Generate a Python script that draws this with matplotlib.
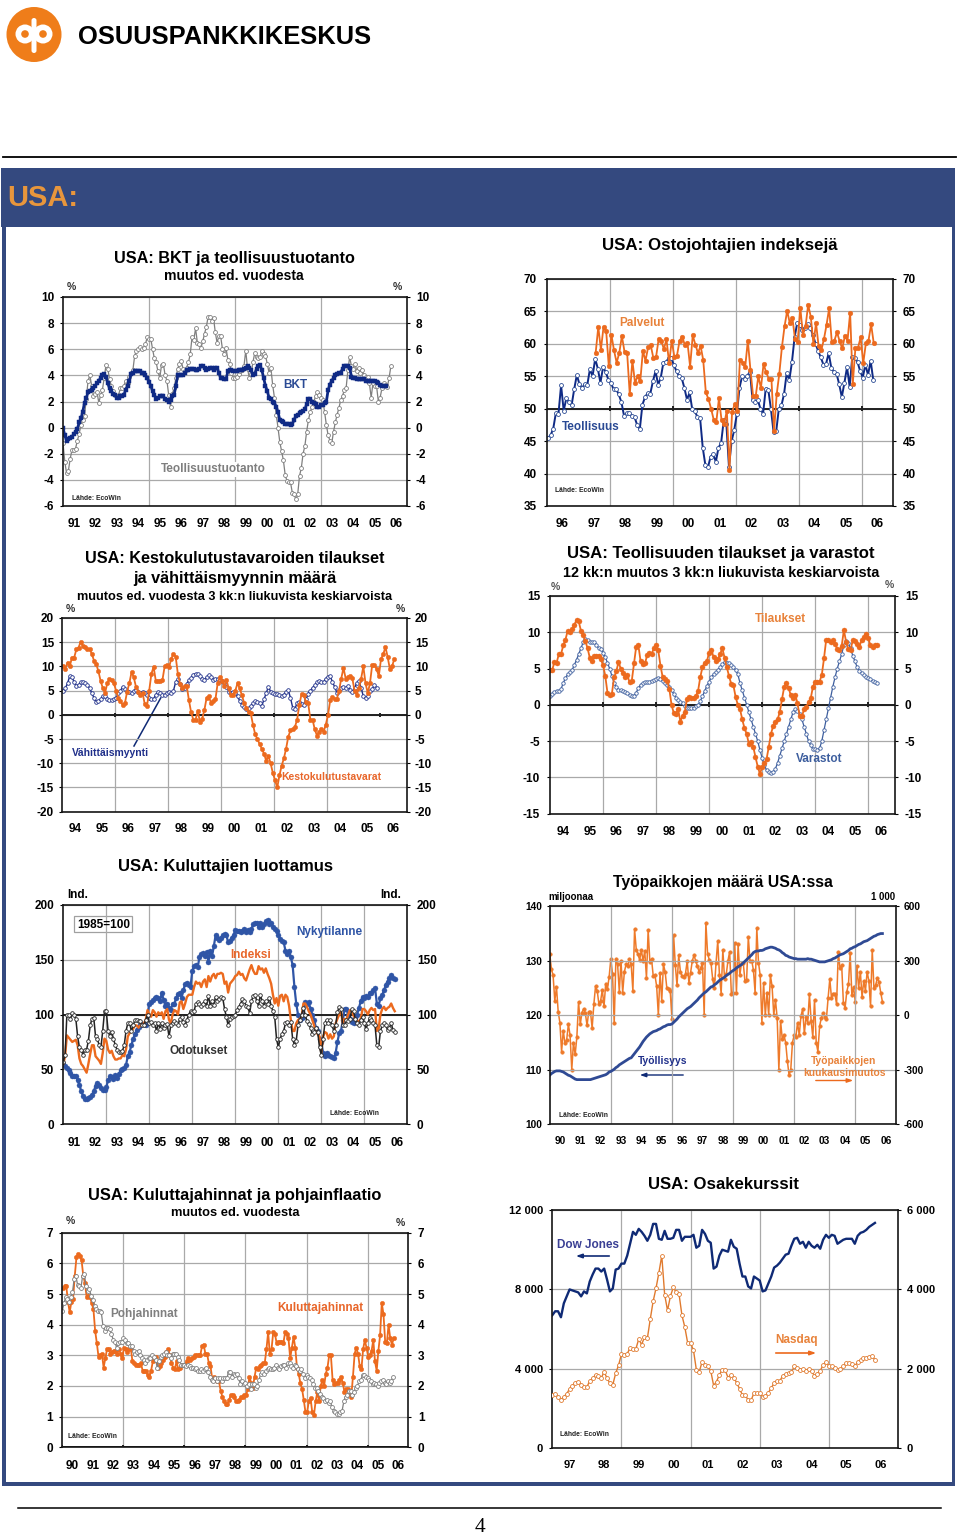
import numpy as np
import matplotlib
matplotlib.use('Agg')
import matplotlib.pyplot as plt
from matplotlib.patches import Circle, Rectangle, FancyBboxPatch

plt.rcParams['font.family'] = ['Liberation Sans', 'DejaVu Sans']

# --- chart 1: BKT ja teollisuustuotanto
bkt = [0.0,-0.6,-1.0,-0.9,-0.8,-0.7,-0.5,-0.3,-0.1,0.4,0.7,1.2,
       1.9,2.3,2.7,2.8,2.9,3.0,3.2,3.4,3.6,3.8,4.0,4.1,
       3.9,3.4,3.0,2.8,2.6,2.5,2.3,2.3,2.4,2.4,2.5,2.9,
       3.2,3.6,4.1,4.2,4.3,4.3,4.3,4.3,4.2,4.2,4.0,3.8,
       3.5,3.2,2.8,2.5,2.2,2.3,2.4,2.4,2.4,2.2,2.1,2.0,
       2.1,2.4,2.5,3.2,4.0,4.0,4.0,4.0,4.2,4.4,4.4,4.5,
       4.5,4.5,4.4,4.4,4.5,4.7,4.7,4.6,4.4,4.5,4.6,4.6,
       4.4,4.6,4.6,4.2,3.8,3.8,3.7,3.7,4.3,4.4,4.4,4.3,
       4.3,4.3,4.4,4.4,4.4,4.5,4.6,4.7,4.6,4.4,4.0,4.1,
       4.5,4.7,4.8,4.4,3.8,3.2,2.8,2.3,2.2,2.0,1.9,1.6,
       1.2,0.6,0.5,0.4,0.3,0.3,0.3,0.2,0.3,0.6,0.9,1.0,
       1.1,1.2,1.3,1.4,1.8,2.2,2.2,2.0,1.9,1.8,1.6,1.6,
       1.7,1.7,1.9,2.0,2.9,3.3,3.6,3.8,4.0,4.1,4.2,4.2,
       4.5,4.7,4.7,4.7,4.6,3.9,3.8,3.8,3.7,3.7,3.7,3.7,
       3.7,3.6,3.6,3.6,3.6,3.6,3.6,3.5,3.4,3.3,3.2,3.2,3.15]
teollisuustuotanto = [-1.2,-2.6,-3.5,-3.3,-2.4,-1.7,-1.7,-1.6,-1.0,-0.5,0.2,0.6,
       0.9,2.2,3.6,4.0,3.2,2.4,2.6,2.7,1.9,2.5,2.9,3.8,
       4.8,4.5,3.7,3.2,2.8,2.5,2.4,2.5,3.0,3.0,3.2,3.6,
       3.4,3.9,4.2,4.4,5.5,5.9,6.0,6.2,6.0,6.1,6.4,6.9,
       6.8,6.8,6.0,5.3,5.0,4.3,3.8,4.8,4.9,4.0,3.6,2.5,
       1.6,2.6,3.0,3.8,4.5,4.9,5.1,4.5,4.3,4.6,5.0,5.6,
       6.9,6.7,7.6,6.5,6.4,6.1,6.6,7.2,7.7,8.5,8.5,8.2,
       8.4,7.3,6.5,7.0,7.0,6.0,5.6,6.1,5.2,4.9,4.2,3.8,
       3.8,3.9,4.1,4.3,4.4,4.7,5.9,4.5,3.8,4.1,5.0,5.7,
       5.4,5.3,5.4,5.9,5.6,5.5,4.9,4.2,4.6,3.3,2.3,1.0,
       0.0,-1.1,-1.8,-2.5,-3.6,-4.1,-4.2,-4.2,-5.0,-5.1,-5.5,-5.1,
       -3.7,-3.1,-2.0,-1.4,-0.3,0.6,1.2,1.6,2.0,2.4,2.7,2.5,
       2.3,2.1,1.2,0.2,-0.6,-1.0,-1.2,-0.3,0.4,1.0,1.5,2.1,
       2.4,2.9,3.0,4.4,5.4,4.7,4.5,4.9,4.3,4.6,4.2,4.4,
       4.0,3.9,3.9,3.4,2.3,3.4,3.2,3.2,2.0,2.3,3.0,3.4,
       3.3,3.1,3.8,4.7]

# --- chart 2: ostojohtajien indeksejä
teollisuus = [45.5,45.9,46.9,49.3,49.2,53.6,49.7,51.6,51.0,50.5,53.0,55.2,
       53.8,53.2,53.8,53.7,56.1,55.0,57.7,56.2,54.0,56.4,55.7,54.5,
       54.0,53.0,53.0,52.2,51.0,48.9,49.3,49.3,48.9,48.7,47.5,46.8,
       50.6,51.8,52.4,52.3,54.2,55.8,53.7,54.8,57.1,57.2,57.8,57.8,
       56.7,55.8,55.0,54.7,53.2,51.4,52.5,49.9,49.6,48.7,48.5,44.0,
       41.3,41.0,42.6,43.0,41.8,44.0,44.7,48.2,47.7,41.0,45.0,46.7,
       49.2,53.2,55.0,54.6,55.1,55.7,51.3,51.0,51.3,50.0,49.2,53.1,
       52.9,49.9,46.4,46.5,50.0,50.5,52.3,55.5,54.4,57.2,61.0,63.2,
       62.9,62.2,62.5,63.0,62.4,61.4,60.0,58.9,57.9,56.8,56.9,58.6,
       56.3,55.7,55.4,53.8,51.8,54.0,56.4,53.4,58.0,57.8,57.2,55.8,
       54.8,56.8,55.2,57.4,54.4]
palvelut = [58.6,62.6,59.1,62.6,62.0,56.6,61.4,59.0,57.1,58.6,61.2,58.8,
       58.6,52.2,57.4,54.0,55.0,54.2,58.9,57.4,59.5,59.8,57.8,57.9,
       60.7,60.5,59.2,60.7,57.0,60.5,58.0,58.2,60.5,61.1,59.8,60.2,
       56.5,61.3,59.9,58.6,59.7,57.5,52.5,51.5,50.0,48.3,48.0,51.6,
       48.2,47.7,49.7,40.5,49.5,50.7,49.7,57.5,57.1,56.4,60.5,56.0,
       52.0,51.9,55.0,53.2,56.9,55.6,54.6,54.6,46.5,52.2,55.4,59.5,
       62.7,65.1,63.2,64.0,60.7,60.3,65.6,61.4,62.7,66.0,64.2,60.0,
       63.2,59.6,59.0,60.7,62.9,65.5,60.3,60.5,61.8,60.4,59.3,61.2,
       60.5,64.8,53.8,59.3,59.4,61.0,57.0,60.1,60.5,63.0,60.1]

# --- chart 3: kestokulutustavarat ja vähittäismyynti
kestokulutus = [10.0,9.5,10.8,10.0,11.8,11.8,13.5,13.9,15.1,14.2,14.1,13.5,
       13.6,12.6,11.2,10.5,9.0,7.0,5.5,4.5,6.5,7.4,7.2,6.5,
       5.0,3.5,2.8,2.0,2.4,4.8,6.5,8.8,7.8,5.8,4.8,4.2,
       4.5,2.2,1.8,5.0,8.5,9.9,7.0,7.0,6.9,7.2,10.0,10.2,
       9.8,11.6,12.6,12.0,8.4,6.4,5.6,5.9,6.0,3.0,0.5,-1.0,
       -1.0,0.8,-1.5,-0.8,1.0,3.5,3.8,2.5,2.8,3.2,6.5,7.8,
       7.0,6.0,7.2,5.5,4.0,4.0,5.0,6.5,5.5,4.0,2.5,1.5,
       0.5,0.3,-2.0,-4.0,-5.0,-6.0,-7.0,-8.0,-9.5,-8.5,-10.0,-12.0,
       -13.5,-15.0,-12.5,-10.5,-9.0,-7.0,-4.5,-3.2,-3.0,-2.5,-1.0,2.0,
       4.3,4.0,2.7,2.5,-1.0,-1.0,-3.0,-4.3,-3.5,-3.0,-3.5,-2.0,
       0.0,3.0,3.7,3.3,3.3,5.0,7.5,9.7,7.5,7.8,8.0,7.6,
       5.0,4.2,5.5,7.5,10.0,6.5,4.5,6.5,10.3,10.3,9.5,8.0,
       11.5,12.5,14.0,12.0,9.5,10.0,11.5]
vahittais = [5.0,5.5,6.5,8.0,7.8,6.8,6.0,6.2,6.7,6.7,6.6,6.2,
       5.5,4.5,3.5,2.6,2.9,3.2,3.9,3.9,3.3,3.0,3.0,3.2,
       3.5,4.5,5.0,5.8,5.4,5.0,4.7,4.5,5.0,5.1,4.7,4.6,
       4.7,4.5,4.0,3.5,3.2,3.3,4.2,4.7,4.6,4.2,4.2,4.5,
       4.7,4.6,5.0,6.8,7.3,6.3,5.3,5.5,6.4,7.2,7.6,8.3,
       8.5,8.5,8.0,7.5,7.1,7.8,8.2,7.8,7.2,7.5,7.5,7.2,
       7.0,6.5,5.8,4.8,4.6,4.7,4.6,3.8,2.9,2.0,1.6,1.3,
       1.4,1.8,2.4,2.8,2.7,2.5,1.8,3.2,4.5,5.8,4.8,4.5,
       4.3,4.4,4.0,3.8,4.2,4.8,5.1,3.5,1.5,1.2,2.5,2.6,
       2.3,2.1,3.2,4.4,5.0,5.6,6.1,6.7,6.9,6.7,6.8,7.5,
       7.9,8.0,6.8,5.8,4.6,5.2,5.6,5.7,5.5,5.9,5.2,4.7,
       5.5,6.6,7.0,5.6,3.8,3.5,3.8,5.0,5.3,6.1,5.6]

# --- chart 4: tilaukset ja varastot
tilaukset = [4.8,4.8,5.9,5.8,7.0,7.0,8.2,9.0,10.2,10.0,10.4,11.0,
       11.7,11.5,10.2,9.6,8.8,7.8,6.5,6.0,6.7,6.8,6.8,6.3,
       5.5,4.0,1.7,1.3,1.5,3.8,4.6,5.9,5.0,4.4,3.8,4.1,
       3.1,3.3,5.7,8.0,8.2,6.0,5.6,5.7,6.9,7.1,7.0,7.8,
       8.2,7.5,5.4,3.8,3.5,3.3,2.2,0.0,-1.1,-1.2,-0.6,-2.3,
       -1.5,-1.0,0.8,1.1,0.9,1.0,1.2,1.9,3.8,5.2,5.8,6.0,
       7.2,7.6,6.6,6.1,6.3,7.0,7.8,6.5,5.2,4.0,2.9,2.7,
       1.1,0.0,-0.6,-2.0,-3.2,-4.0,-5.4,-5.1,-5.8,-7.2,-8.5,-9.5,
       -8.6,-8.0,-7.5,-5.8,-4.0,-2.9,-2.3,-2.0,-1.0,0.8,2.5,3.0,
       2.3,1.3,1.0,1.4,0.2,-1.5,-1.6,-0.6,-0.3,0.4,0.9,2.5,
       3.2,3.2,3.2,4.1,6.4,9.0,9.0,8.6,8.9,8.4,7.7,7.6,
       8.1,10.3,8.7,7.7,7.5,8.9,8.8,8.4,8.0,8.9,9.3,9.8,
       9.2,8.2,8.0,8.2,8.3]
varastot = [1.2,1.5,1.8,1.9,1.9,2.2,3.0,3.7,4.2,4.5,4.8,5.5,
       6.2,7.0,7.8,8.6,9.1,8.9,8.7,8.6,8.6,8.3,7.8,7.7,
       7.2,6.6,5.8,5.0,4.0,3.0,2.4,2.1,2.0,1.9,1.8,1.6,
       1.4,1.2,1.2,1.7,2.3,2.8,3.0,3.1,3.2,3.2,3.3,3.4,
       3.5,3.7,3.6,3.3,3.0,2.7,2.4,2.0,1.5,1.0,0.6,0.4,
       0.3,-0.2,-0.4,-0.4,-0.4,-0.4,-0.2,0.0,0.5,1.2,1.9,2.6,
       3.2,3.8,4.2,4.5,4.8,5.2,5.6,5.9,5.8,5.7,5.5,5.2,
       4.8,4.2,3.0,2.0,1.0,0.0,-1.0,-2.0,-3.0,-4.0,-5.0,-6.2,
       -7.3,-8.3,-9.0,-9.3,-9.4,-9.3,-8.8,-8.0,-7.0,-6.0,-5.0,-4.0,
       -3.0,-2.0,-1.0,-0.6,-0.8,-1.2,-2.0,-3.0,-4.0,-5.0,-5.6,-6.1,
       -6.1,-6.2,-6.0,-5.0,-3.5,-2.0,-0.5,1.0,2.5,3.8,5.0,6.0,
       7.0,8.2,8.8,8.5,7.8,6.8,6.0,5.2,4.7,4.4,4.1,3.9,
       3.7,3.5,3.3,3.1,3.0]

# --- chart 5: kuluttajien luottamus
nykytilanne = [55,53,51,49,47,44,44,44,40,36,30,26,
       23,23,24,25,27,30,35,38,36,33,31,31,
       34,40,44,43,41,45,42,46,49,50,51,54,
       62,66,72,78,82,86,89,90,91,91,90,100,
       110,111,113,115,116,115,112,120,113,108,110,106,
       104,110,110,115,119,120,115,122,128,129,127,125,
       140,144,145,143,152,155,156,153,157,148,158,153,
       162,172,170,168,170,172,173,172,166,167,170,172,
       177,176,176,175,176,178,175,177,175,178,182,183,
       183,180,183,180,182,185,186,182,183,180,178,176,
       172,169,167,166,158,155,158,152,145,125,110,100,
       95,97,98,111,110,111,105,100,95,88,85,78,
       75,65,62,65,63,62,61,60,65,75,83,85,
       95,105,105,100,96,93,92,97,100,106,112,116,
       115,117,116,120,120,122,124,110,108,115,118,122,
       127,130,133,136,133,132]
indeksi = [55,62,81,79,77,75,76,77,72,60,55,53,
       50,47,55,64,72,72,62,60,58,55,65,78,
       76,68,65,67,62,59,59,60,60,63,62,68,
       80,83,85,87,90,90,88,90,91,92,95,104,
       100,98,104,102,98,102,100,102,96,103,105,95,
       92,100,104,103,100,111,112,105,110,116,118,118,
       118,125,130,128,129,125,130,132,125,135,130,135,
       137,133,137,137,138,137,128,130,120,128,130,132,
       135,136,139,136,137,133,131,136,141,145,140,137,
       137,144,141,142,138,142,137,133,128,118,110,115,
       108,117,118,112,118,116,108,95,85,85,92,95,
       96,98,110,110,107,103,100,95,90,85,82,80,
       65,80,84,83,78,82,78,80,92,96,100,103,
       92,96,95,100,104,103,99,96,94,94,96,105,
       105,103,100,104,106,104,105,85,87,100,105,107,
       104,106,107,110,106,103]
odotukset = [57,63,100,100,96,101,100,96,80,70,68,63,
       68,68,76,90,96,97,80,78,72,70,85,103,
       103,85,80,84,78,72,68,66,66,67,72,85,
       92,92,85,90,95,95,94,94,90,90,95,100,
       92,93,90,92,85,92,87,92,88,90,91,80,
       90,92,94,92,90,96,98,93,90,95,100,103,
       102,103,110,111,110,108,110,112,108,117,108,112,
       109,116,112,114,116,115,105,98,90,96,98,99,
       100,104,107,110,114,112,108,107,101,112,117,118,
       112,108,118,112,108,112,110,115,108,103,98,78,
       70,78,82,85,92,93,90,93,78,72,76,90,
       95,100,106,100,94,91,88,82,84,88,84,70,
       63,78,92,95,92,95,90,85,90,102,107,105,
       90,90,95,94,96,105,103,96,92,90,95,98,
       92,87,92,97,95,92,90,72,70,85,90,92,
       90,86,88,92,86,84]

# --- chart 6: työpaikkojen määrä
tyollisyys = [109.0,109.3,109.5,109.7,109.8,109.8,109.8,109.7,109.6,109.4,109.2,109.0,
       108.9,108.7,108.5,108.3,108.2,108.2,108.2,108.2,108.2,108.2,108.2,108.2,
       108.2,108.3,108.4,108.5,108.6,108.7,108.8,108.9,109.0,109.1,109.3,109.6,
       109.7,109.9,110.1,110.4,110.6,110.9,111.1,111.3,111.5,111.7,111.9,112.1,
       112.2,112.6,113.0,113.4,113.8,114.2,114.7,115.2,115.6,116.0,116.3,116.6,
       116.8,117.0,117.1,117.2,117.4,117.5,117.7,117.9,118.0,118.2,118.3,118.3,
       118.4,118.7,119.0,119.3,119.7,120.0,120.3,120.6,120.9,121.2,121.4,121.6,
       121.9,122.2,122.5,122.8,123.2,123.5,123.8,124.1,124.3,124.6,124.9,125.2,
       125.3,125.6,125.8,126.1,126.4,126.6,126.8,127.0,127.3,127.5,127.7,128.0,
       128.2,128.4,128.7,128.9,129.1,129.3,129.6,129.9,130.2,130.5,130.8,131.1,
       131.5,131.7,131.8,131.8,131.9,131.9,132.0,132.2,132.3,132.4,132.5,132.5,
       132.4,132.3,132.1,132.0,131.8,131.5,131.3,131.0,130.9,130.7,130.6,130.5,
       130.4,130.4,130.3,130.3,130.3,130.3,130.3,130.3,130.4,130.3,130.3,130.2,
       130.1,130.0,129.9,129.8,129.8,129.8,129.8,129.9,130.0,130.1,130.2,130.4,
       130.5,130.7,130.9,131.1,131.2,131.3,131.5,131.7,131.9,132.2,132.3,132.5,
       132.6,132.8,133.0,133.1,133.3,133.5,133.6,133.7,133.9,134.1,134.3,134.5,
       134.6,134.8,134.9,135.0,135.0]
kuukausimuutos = [340,255,220,80,155,20,-40,-200,-85,-155,-135,-50,
       -110,-300,-150,-215,-120,75,-50,15,35,10,-55,20,
       20,-70,60,160,135,60,80,140,50,175,145,210,
       310,230,-45,310,280,130,300,125,240,280,270,310,
       280,135,475,360,335,305,360,300,355,205,470,295,
       310,215,220,160,0,235,80,280,240,150,145,135,
       -20,440,275,165,330,240,215,210,230,300,180,235,
       300,330,300,270,240,260,290,0,510,340,305,290,
       200,150,290,410,220,120,360,200,225,300,350,120,
       125,400,125,390,220,290,290,190,195,430,300,300,
       250,125,480,290,220,-40,180,0,125,0,220,160,
       0,85,-15,-300,-30,-130,-110,-150,-250,-330,-300,-150,
       -110,-120,-40,-110,-5,35,-100,-10,-40,115,-30,-120,
       85,-150,-200,-60,-15,10,-10,-20,95,200,95,120,
       120,60,350,260,275,70,40,130,170,345,110,155,
       75,270,150,240,100,190,135,240,190,50,360,150,
       165,205,185,125,75]

# --- chart 7: kuluttajahinnat ja pohjainflaatio
kuluttajahinnat = [5.2,5.25,5.25,4.75,4.4,4.75,4.85,5.6,6.2,6.3,6.25,6.1,
       5.6,5.35,4.9,4.95,4.9,4.7,4.5,3.8,3.4,2.95,3.0,3.05,
       2.6,2.9,3.2,3.2,3.05,3.1,3.15,3.15,3.05,3.2,3.05,2.9,
       3.25,3.2,3.1,3.2,3.25,2.8,2.75,2.7,2.7,2.7,2.75,2.5,
       2.5,2.5,2.35,2.3,2.5,2.8,2.9,2.95,2.6,2.65,2.75,2.85,
       2.95,3.1,3.2,3.0,2.75,2.6,2.55,2.8,2.55,2.6,2.7,2.7,
       2.7,2.8,2.9,2.85,2.9,2.95,3.0,3.0,3.0,3.0,3.3,3.35,
       3.05,3.05,2.75,2.65,2.25,2.3,2.2,2.15,2.15,1.85,1.65,1.5,
       1.4,1.4,1.55,1.7,1.7,1.65,1.5,1.5,1.55,1.65,1.65,1.7,
       1.7,1.9,2.3,2.1,1.95,2.3,2.6,2.55,2.65,2.7,2.75,2.75,
       3.2,3.75,3.05,3.2,3.75,3.7,3.4,3.45,3.45,3.45,3.4,3.75,
       3.7,3.55,2.9,3.25,3.6,3.25,2.6,2.4,2.1,1.9,1.55,1.15,
       1.15,1.5,1.6,1.15,1.05,1.5,1.8,1.5,2.0,2.2,2.0,2.4,
       2.6,3.0,3.0,2.2,2.05,2.1,2.1,2.2,2.3,2.1,1.8,1.9,
       1.9,1.75,1.65,2.3,3.05,3.25,3.05,2.65,2.55,3.2,3.5,3.25,
       2.95,3.0,3.15,3.5,2.8,2.5,3.15,3.65,4.7,4.35,3.45,3.4,
       4.0,3.55,3.35,3.55]
pohjahinnat = [4.45,4.7,4.9,4.85,4.75,4.9,5.05,5.5,5.6,5.3,5.25,5.2,
       5.6,5.65,5.25,5.1,5.15,4.95,4.8,4.6,4.5,4.45,4.45,4.4,
       3.95,3.8,3.9,3.9,3.85,3.7,3.5,3.45,3.25,3.4,3.45,3.45,
       3.55,3.5,3.4,3.4,3.3,3.3,3.15,3.05,3.1,3.15,3.0,2.9,
       2.85,2.75,2.85,2.9,2.9,3.0,2.95,2.85,2.6,2.8,2.95,3.0,
       3.05,3.1,3.0,3.0,2.9,3.05,3.05,3.05,2.95,2.85,2.7,2.7,
       2.7,2.65,2.7,2.65,2.6,2.6,2.55,2.6,2.5,2.5,2.55,2.5,
       2.55,2.6,2.45,2.3,2.2,2.15,2.25,2.15,2.25,2.25,2.15,2.25,
       2.25,2.25,2.45,2.45,2.3,2.4,2.35,2.4,2.25,2.05,2.15,2.05,
       2.1,2.0,2.05,1.9,2.05,2.05,1.95,2.0,2.2,2.4,2.45,2.4,
       2.5,2.55,2.6,2.55,2.55,2.6,2.7,2.6,2.55,2.65,2.7,2.7,
       2.6,2.75,2.75,2.65,2.6,2.7,2.65,2.55,2.5,2.55,2.4,2.25,
       2.35,2.3,2.25,2.2,2.05,1.95,1.95,1.85,1.75,1.65,1.6,1.5,
       1.55,1.45,1.5,1.3,1.2,1.15,1.1,1.1,1.15,1.2,1.5,1.65,
       1.7,1.85,1.85,1.7,1.8,1.95,2.0,2.15,2.2,2.35,2.35,2.3,
       2.25,2.2,2.15,2.05,2.1,2.05,2.0,2.1,2.15,2.2,2.1,2.05,
       2.15,2.1,2.15,2.3]

# --- chart 8: osakekurssit
dow = [6700,6900,6900,6600,7300,7650,8000,7950,7900,7850,7650,7900,7800,8400,8750,9050,9050,8900,9050,
       8500,7900,8050,9000,9050,9300,9300,9700,10300,10900,10750,11050,10900,10700,10450,10750,
       11300,11300,10550,10500,10950,10550,10550,10600,11000,11000,10450,10650,10650,10650,10750,
       10100,10200,11000,10800,10450,10350,9050,9150,9700,10000,9950,9900,10500,10150,10050,9300,
       8650,8650,8150,8050,8650,8550,8450,7900,7950,8300,8650,9100,9200,9350,9550,9750,9800,10200,
       10550,10600,10300,10400,10100,10400,10200,10100,10250,10050,10500,10750,10600,10750,10700,
       10300,10400,10500,10550,10550,10550,10300,10700,10850,10900,11000,11150,11250,11350]
nasdaq = [1350,1370,1290,1220,1300,1370,1500,1580,1650,1680,1600,1550,1540,1700,1760,1850,1830,1770,1930,
       1760,1640,1600,1890,2090,2370,2350,2380,2530,2510,2500,2750,2610,2800,2770,3250,3700,4030,
       4420,4850,3870,3470,3830,4050,3930,3880,3350,3050,2650,2650,2470,1980,1920,2180,2100,2060,
       1950,1580,1680,1850,1980,1970,1780,1850,1780,1650,1500,1340,1330,1220,1210,1390,1380,1390,
       1300,1320,1400,1520,1640,1700,1700,1830,1870,1900,1920,2060,2030,1980,2000,1950,2000,1950,
       1820,1880,1950,2100,2170,2080,2060,2030,1960,2000,2070,2140,2150,2130,2060,2180,2220,2280,
       2270,2290,2320,2230]

years_91 = ['91','92','93','94','95','96','97','98','99','00','01','02','03','04','05','06']
years_90 = ['90'] + years_91
years_94 = years_91[3:]
years_96 = years_91[5:]
years_97 = years_91[6:]

FRAME = '#34497F'
ORANGE = '#EC6A1E'
NAVY = '#0F2A85'
BLUE = '#2F55A6'
GREY = '#7F7F7F'
W, H = 960, 1536

fig = plt.figure(figsize=(W / 100, H / 100), dpi=100, facecolor='white')

# page furniture drawn in pixel coordinates
bg = fig.add_axes([0, 0, 1, 1], zorder=0)
bg.set_xlim(0, W)
bg.set_ylim(H, 0)
bg.axis('off')
bg.add_patch(Rectangle((1, 168), 954, 59, color=FRAME, lw=0))
bg.add_patch(Rectangle((2, 226), 4, 1260, color=FRAME, lw=0))
bg.add_patch(Rectangle((951.5, 226), 3.5, 1260, color=FRAME, lw=0))
bg.add_patch(Rectangle((2, 1482), 953, 4, color=FRAME, lw=0))
bg.plot([3, 956], [157, 157], color='black', lw=1.3)
bg.plot([18, 941], [1508, 1508], color='black', lw=1.1)
# logo
bg.add_patch(Circle((34, 34.5), 27.5, color='#EF7D1A', lw=0))
bg.add_patch(Circle((25, 34), 9.5, color='white', lw=0))
bg.add_patch(Circle((43, 34), 9.5, color='white', lw=0))
bg.add_patch(Circle((25, 34), 3.8, color='#EF7D1A', lw=0))
bg.add_patch(Circle((43, 34), 3.8, color='#EF7D1A', lw=0))
bg.add_patch(FancyBboxPatch((31.5, 18), 5, 35, boxstyle='round,pad=0,rounding_size=2.5', color='white', lw=0))


def text(x, y, s, size=8.5, color='black', weight='bold', ha='center', **kw):
    return fig.text(x / W, 1 - (y + 1.5) / H, s, fontsize=size, color=color, fontweight=weight,
                    ha=ha, va='center', zorder=10, **kw)


def months(start, n):
    return start + np.arange(n) / 12


def panel(box, first_year, year_labels, grid_years, ylim, yticks, left_labels, right_labels,
          label_x, label_y, right_lim=None, right_ticks=None, zero=None, zero_ticks=(), size=8.5):
    x0, x1, y0, y1 = box
    ax = fig.add_axes([x0 / W, 1 - y1 / H, (x1 - x0) / W, (y1 - y0) / H], zorder=2)
    ax.patch.set_alpha(0)
    n = len(year_labels)
    ax.set_xlim(first_year, first_year + n)
    ax.set_ylim(*ylim)
    ax.set_yticks(yticks, left_labels, fontsize=size, fontweight='bold')
    ax.set_xticks(grid_years, [''] * len(grid_years))
    ax.set_xticks(first_year + 0.5 + np.arange(n), year_labels, minor=True, fontsize=size, fontweight='bold')
    ax.tick_params(axis='x', which='major', length=0)
    ax.tick_params(axis='x', which='minor', length=0, pad=(label_y - y1 - 5) * 0.72)
    ax.tick_params(axis='y', length=2.5, width=0.8, pad=(x0 - label_x[0] - 3.5) * 0.72)
    ax.grid(True, which='major', color='#A9A9A9', lw=0.9)
    ax.set_axisbelow(True)
    if zero is not None:
        ax.axhline(zero, color='#202020', lw=1.4, zorder=1.5)
        dy = (ylim[1] - ylim[0]) * 0.012
        ax.vlines(list(zero_ticks), zero - dy, zero + dy, color='#202020', lw=1.4, zorder=1.5)
    for s in ax.spines.values():
        s.set_linewidth(1.2)
        s.set_color('#151515')
    ax2 = ax.twinx()
    ax2.set_ylim(*(right_lim if right_lim is not None else ylim))
    ax2.set_yticks(right_ticks if right_ticks is not None else yticks, right_labels, fontsize=size, fontweight='bold')
    ax2.tick_params(axis='y', length=2.5, width=0.8, pad=(label_x[1] - x1 - 3.5) * 0.72)
    for s in ax2.spines.values():
        s.set_visible(False)
    ax2.patch.set_alpha(0)
    return ax, ax2


def hollow(ax, x, y, color, ms=2.9, lw=1.1, edge=None, **kw):
    ax.plot(x, y, color=color, lw=lw, marker='o', ms=ms, mfc='white', mec=edge or color, mew=0.6, **kw)


def solid(ax, x, y, color, ms=3.2, lw=1.3, marker='o', **kw):
    ax.plot(x, y, color=color, lw=lw, marker=marker, ms=ms, mfc=color, mec=color, mew=0.3, **kw)


def source(x, y):
    text(x, y, 'Lähde: EcoWin', size=4.9, ha='left', color='#222222')


# header
text(78, 36, 'OSUUSPANKKIKESKUS', size=18.35, ha='left')
text(7, 197, 'USA:', size=21, color='#E8963C', ha='left')
text(480, 1526, '4', size=15.5, weight='normal', family='Liberation Serif')

# chart 1
ticks = [-6, -4, -2, 0, 2, 4, 6, 8, 10]
labels = ['-6', '-4', '-2', '0', '2', '4', '6', '8', '10']
ax, _ = panel((63, 407, 297, 506), 1991, years_91, [1995, 1999, 2003], (-6, 10), ticks, labels, labels, (54, 416), 523)
hollow(ax, months(1991, len(teollisuustuotanto)), teollisuustuotanto, GREY, ms=2.8, lw=0.9)
solid(ax, months(1991, len(bkt)), bkt, NAVY, ms=3.4, lw=2.0, marker='s')
text(234.5, 257, 'USA: BKT ja teollisuustuotanto', 11.7)
text(234, 275, 'muutos ed. vuodesta', 10.1)
text(71, 285, '%', 7.5, '#333333')
text(397, 285, '%', 7.5, '#333333')
text(295, 384, 'BKT', 8.5, '#2A4A94')
text(213, 468, 'Teollisuustuotanto', 8.5, GREY, bbox=dict(fc='white', ec='none', pad=1))
source(72, 497)

# chart 2
ticks = [35, 40, 45, 50, 55, 60, 65, 70]
labels = [str(v) for v in ticks]
ax, _ = panel((546.7, 893, 279, 506), 1996, years_96, [1998, 2000, 2002, 2004, 2006], (35, 70), ticks, labels, labels,
              (537, 903), 523, zero=50, zero_ticks=[1998, 2000, 2002, 2004, 2006])
hollow(ax, months(1996.04, len(teollisuus)), teollisuus, NAVY, ms=2.8, lw=1.4, edge='#2A4A94')
solid(ax, months(1997.555, len(palvelut)), palvelut, ORANGE, ms=3.4, lw=1.3)
text(720, 244, 'USA: Ostojohtajien indeksejä', 12.15)
text(642, 322, 'Palvelut', 8.5, '#E8823A')
text(591, 425, 'Teollisuus', 8.5, '#2A4A94')
source(555, 489)

# chart 3
ticks = [-20, -15, -10, -5, 0, 5, 10, 15, 20]
labels = [str(v) for v in ticks]
ax, _ = panel((62.3, 406.7, 618, 811.7), 1994, years_94, [1996, 1998, 2000, 2002, 2004], (-20, 20), ticks, labels, labels,
              (54, 415), 828, zero=0, zero_ticks=[1996, 1998, 2000, 2002, 2004, 2006])
hollow(ax, months(1994.03, len(vahittais)), vahittais, '#1F2F8A', ms=2.6, lw=1.0)
solid(ax, months(1994.03, len(kestokulutus)), kestokulutus, ORANGE, ms=3.2, lw=1.3)
text(235, 557, 'USA: Kestokulutustavaroiden tilaukset', 11.7)
text(235, 577, 'ja vähittäismyynnin määrä', 11.7)
text(235, 595, 'muutos ed. vuodesta 3 kk:n liukuvista keskiarvoista', 9.2)
text(70, 608, '%', 7.5, '#333333')
text(400, 607, '%', 7.5, '#333333')
text(110, 752, 'Vähittäismyynti', 7.5, '#1F2F8A')
text(331, 776, 'Kestokulutustavarat', 7.5, '#E8662A')
bg.plot([134, 160.7], [746, 698], color='#0F2A75', lw=1.1)

# chart 4
ticks = [-15, -10, -5, 0, 5, 10, 15]
labels = [str(v) for v in ticks]
ax, _ = panel((550, 894.7, 596, 813.7), 1994, years_94, [1996, 1998, 2000, 2002, 2004, 2006], (-15, 15), ticks, labels, labels,
              (540, 905), 831, zero=0, zero_ticks=[1996, 1998, 2000, 2002, 2004, 2006])
hollow(ax, months(1994.0, len(varastot)), varastot, '#3D5E9E', ms=2.5, lw=0.9)
solid(ax, months(1994.0, len(tilaukset)), tilaukset, ORANGE, ms=3.6, lw=1.3)
text(721, 552, 'USA: Teollisuuden tilaukset ja varastot', 12.1)
text(721, 571, '12 kk:n muutos 3 kk:n liukuvista keskiarvoista', 10.4)
text(555, 585, '%', 7.5, '#555555')
text(889, 584, '%', 7.5, '#555555')
text(780, 618, 'Tilaukset', 8.5, '#E8823A')
text(819, 758, 'Varastot', 8.5, '#3D5E9E')

# chart 5
ticks = [0, 50, 100, 150, 200]
labels = [str(v) for v in ticks]
ax, _ = panel((63.3, 407.3, 904.7, 1124.3), 1991, years_91, list(range(1993, 2006, 2)), (0, 200), ticks, labels, labels,
              (54, 417), 1142, zero=100)
solid(ax, months(1991, len(nykytilanne)), nykytilanne, BLUE, ms=3.6, lw=1.6)
ax.plot(months(1991, len(indeksi)), indeksi, color=ORANGE, lw=1.7)
hollow(ax, months(1991, len(odotukset)), odotukset, '#222222', ms=2.6, lw=1.1)
text(225, 865, 'USA: Kuluttajien luottamus', 12)
text(78, 894, 'Ind.', 8.5, ha='center')
text(391, 893, 'Ind.', 8.5, ha='center')
bg.add_patch(Rectangle((74, 916), 58, 16, fc='white', ec='#A0A0A0', lw=0.9))
text(104, 923, '1985=100', 8.5)
text(329, 930, 'Nykytilanne', 8.5, BLUE)
text(251, 953, 'Indeksi', 8.5, '#E8662A')
text(199, 1050, 'Odotukset', 8.5, '#333333')
source(330, 1112)

# chart 6
ticks = [100, 110, 120, 130, 140]
labels = [str(v) for v in ticks]
r_ticks = [-600, -300, 0, 300, 600]
r_labels = [str(v) for v in r_ticks]
ax, ax2 = panel((549.7, 896, 906.3, 1124.3), 1990, years_90, [1993, 1996, 1999, 2002, 2005], (100, 140), ticks, labels, r_labels,
                (542, 904), 1141, right_lim=(-600, 600), right_ticks=r_ticks, size=7.3)
ax.set_zorder(3)
ax2.set_zorder(2)
solid(ax2, months(1990, len(kuukausimuutos)), kuukausimuutos, '#EE7A2A', ms=2.6, lw=1.1)
ax.plot(months(1990, len(tyollisyys)), tyollisyys, color='#2F4A94', lw=2.0)
text(723, 881, 'Työpaikkojen määrä USA:ssa', 11.35)
text(548, 896, 'miljoonaa', 6.9, ha='left')
text(895, 896, '1 000', 6.9, ha='right')
text(663, 1059, 'Työllisyys', 7.4, '#1F2F8A')
text(844, 1059, 'Työpaikkojen', 7.4, '#E8823A')
text(844, 1071.5, 'kuukausimuutos', 7.4, '#E8823A')
bg.annotate('', xy=(637, 1075), xytext=(686, 1075), zorder=6,
            arrowprops=dict(arrowstyle='-|>,head_width=0.12,head_length=0.35', color='#0F2A75', lw=1.0))
bg.annotate('', xy=(856, 1080.5), xytext=(813, 1080.5), zorder=6,
            arrowprops=dict(arrowstyle='-|>,head_width=0.12,head_length=0.35', color=ORANGE, lw=1.0))
source(559, 1114)

# chart 7
ticks = list(range(8))
labels = [str(v) for v in ticks]
ax, _ = panel((62.3, 408.3, 1232.7, 1447.3), 1990, years_90, [1993, 1996, 1999, 2002, 2005], (0, 7), ticks, labels, labels,
              (53, 418), 1465, zero=0, zero_ticks=[1990, 1993, 1996, 1999, 2002, 2005])
solid(ax, months(1990.03, len(kuluttajahinnat)), kuluttajahinnat, ORANGE, ms=3.2, lw=1.3)
hollow(ax, months(1990.0, len(pohjahinnat)), pohjahinnat, GREY, ms=2.8, lw=0.9)
text(235, 1194, 'USA: Kuluttajahinnat ja pohjainflaatio', 11.75)
text(235, 1211, 'muutos ed. vuodesta', 9.3)
text(70, 1220, '%', 7.5, '#333333')
text(400, 1221, '%', 7.5, '#333333')
text(144, 1312, 'Pohjahinnat', 8.5, GREY)
text(320, 1307, 'Kuluttajahinnat', 8.5, '#E8662A')
source(68, 1435)

# chart 8
ticks = [0, 4000, 8000, 12000]
labels = ['0', '4 000', '8 000', '12 000']
r_ticks = [0, 2000, 4000, 6000]
r_labels = ['0', '2 000', '4 000', '6 000']
ax, ax2 = panel((552.3, 898, 1210, 1448.3), 1997, years_97, [1999, 2001, 2003, 2005], (0, 12000), ticks, labels, r_labels,
                (543, 907), 1465, right_lim=(0, 6000), right_ticks=r_ticks, size=8)
ax2.plot(months(1997, len(nasdaq)), nasdaq, color='#E07A2E', lw=1.0, marker='o', ms=2.8, mfc='white', mec='#E07A2E', mew=0.6)
ax.plot(months(1997, len(dow)), dow, color='#0F2A75', lw=1.7)
text(723, 1183, 'USA: Osakekurssit', 12.1)
text(588, 1243, 'Dow Jones', 8.5, '#3A3F94')
text(797, 1338, 'Nasdaq', 8.5, '#E8823A')
bg.annotate('', xy=(573, 1256), xytext=(612, 1256), zorder=6,
            arrowprops=dict(arrowstyle='-|>,head_width=0.12,head_length=0.35', color='#0F2A75', lw=1.2))
bg.annotate('', xy=(819, 1353), xytext=(773, 1353), zorder=6,
            arrowprops=dict(arrowstyle='-|>,head_width=0.12,head_length=0.35', color=ORANGE, lw=1.2))
source(560, 1433)

fig.savefig('out.png', dpi=100)
